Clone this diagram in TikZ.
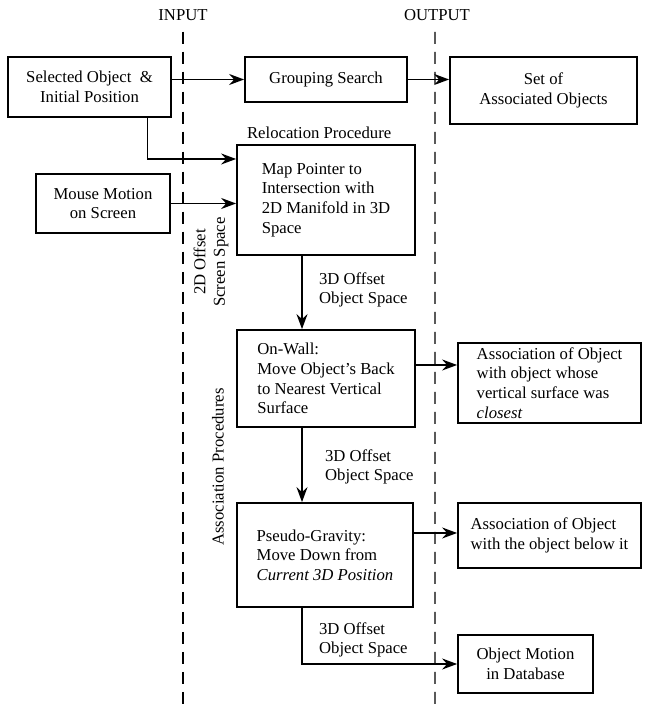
\documentclass[tikz,border=0pt]{standalone}
\usepackage{fontspec}
\setmainfont{Liberation Serif}
\usetikzlibrary{arrows.meta,positioning}

\begin{document}
\begin{tikzpicture}[
  >=Stealth,
  font=\fontsize{9.5}{11.2}\selectfont,
  box/.style={draw,line width=1pt,align=center,inner sep=2pt},
  lbox/.style={draw,line width=1pt,align=left,inner sep=2pt},
  sig/.style={-{Stealth[length=3mm,width=2.2mm,inset=1mm]},line width=1pt},
  divider/.style={line width=0.7pt,dash pattern=on 2.4mm off 1.6mm},
  lab/.style={align=left,inner sep=1pt}]

  \useasboundingbox (0,0) rectangle (12.94,14.2);

  % ================= input / output dividers =================
  \node (inp) at (3.66,13.9) {INPUT};
  \node (outp) at (8.74,13.9) {OUTPUT};
  \coordinate (inpend) at (3.66,0);
  \coordinate (outpend) at (8.70,0);
  \draw[divider] ([yshift=-1mm]inp.south) -- (inpend);
  \draw[divider] ([yshift=-1mm,xshift=-0.04cm]outp.south) -- (outpend);

  % ================= top row =================
  \node[box,minimum width=3.26cm,minimum height=1.2cm] (sel) at (1.79,12.46)
    {Selected Object\ \ \&\\Initial Position};
  \node[box,minimum width=3.24cm,minimum height=0.9cm] (grp) at (6.52,12.61)
    {Grouping Search};
  \node[box,minimum width=3.74cm,minimum height=1.34cm] (aset) at (10.87,12.39)
    {Set of\\Associated Objects};

  \draw[sig] (grp.west -| sel.east) -- (grp.west);
  \draw[sig] (grp.east) -- (grp.east -| aset.west);

  % ================= relocation procedure =================
  \node[lab,anchor=west] (reloc) at (4.9,11.54) {Relocation Procedure};
  \node[lbox,minimum width=3.56cm,minimum height=2.2cm] (map) at (6.52,10.2)
    {Map Pointer to\\Intersection with\\2D Manifold in 3D\\Space};
  \node[box,minimum width=2.68cm,minimum height=1.18cm] (mouse) at (2.06,10.13)
    {Mouse Motion\\on Screen};

  \draw[sig] ([xshift=1.16cm]sel.south) |- ([yshift=0.82cm]map.west);
  \draw[sig] (mouse.east) -- (mouse.east -| map.west);

  \node[rotate=90,align=center,inner sep=1pt] (scr) at (4.22,8.96)
    {2D Offset\\Screen Space};

  % ================= association procedures =================
  \node[lbox,minimum width=3.56cm,minimum height=1.94cm] (wall) at (6.52,6.63)
    {On-Wall:\\Move Object's Back\\to Nearest Vertical\\Surface};
  \node[lbox,minimum width=3.66cm,minimum height=1.6cm] (awall) at (10.99,6.54)
    {Association of Object\\with object whose\\vertical surface was\\\textit{closest}};
  \node[lbox,minimum width=3.52cm,minimum height=2.08cm] (grav) at (6.5,3.1)
    {Pseudo-Gravity:\\Move Down from\\\textit{Current 3D Position}};
  \node[lbox,minimum width=3.66cm,minimum height=1.3cm] (agrav) at (10.99,3.49)
    {Association of Object\\with the object below it};
  \node[box,minimum width=2.7cm,minimum height=1.16cm] (motion) at (10.51,0.92)
    {Object Motion\\in Database};

  \node[rotate=90,inner sep=1pt] (assoc) at (4.36,4.86) {Association Procedures};

  \node[lab,anchor=west] (off1) at (6.34,8.4) {3D Offset\\Object Space};
  \node[lab,anchor=west] (off2) at (6.46,4.86) {3D Offset\\Object Space};
  \node[lab,anchor=west] (off3) at (6.34,1.4) {3D Offset\\Object Space};

  \draw[sig] ([xshift=-0.48cm]map.south) -- ([xshift=-0.48cm]wall.north);
  \draw[sig] ([xshift=-0.48cm]wall.south) -- ([xshift=-0.46cm]grav.north);
  \draw[sig] ([yshift=0.27cm]wall.east) -- ([yshift=0.27cm]wall.east -| awall.west);
  \draw[sig] ([yshift=0.44cm]grav.east) -- ([yshift=0.44cm]grav.east -| agrav.west);
  \draw[sig] ([xshift=-0.46cm]grav.south) |- (motion.west);
\end{tikzpicture}
\end{document}
